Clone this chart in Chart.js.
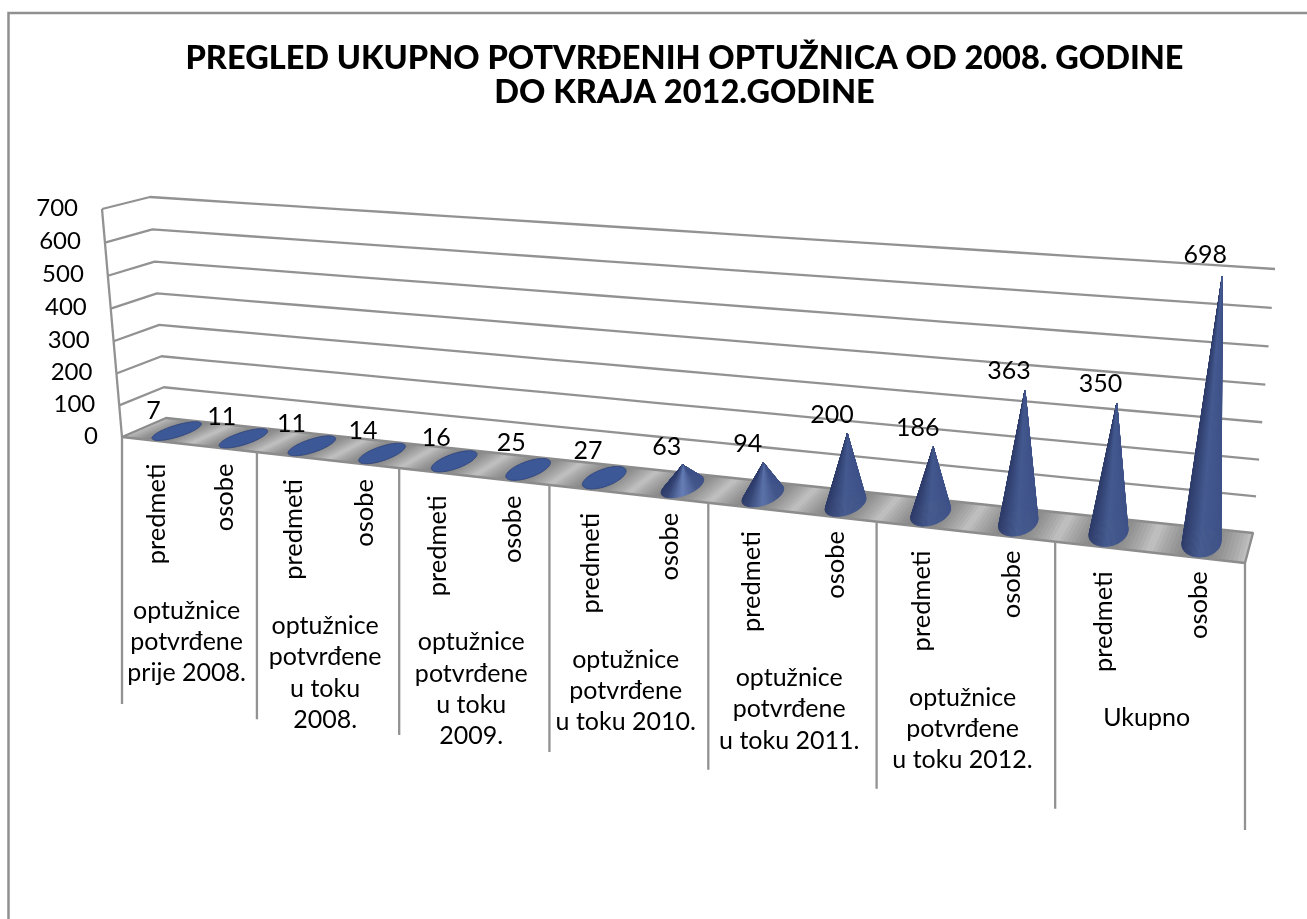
<!DOCTYPE html>
<html><head><meta charset="utf-8">
<style>html,body{margin:0;padding:0;background:#fff}canvas{display:block}</style>
<script src="https://cdn.jsdelivr.net/npm/chart.js@4"></script>
</head><body><canvas id="c" width="1307" height="919"></canvas>
<script>
const titleLines = ['PREGLED UKUPNO POTVRĐENIH OPTUŽNICA OD 2008. GODINE','DO KRAJA 2012.GODINE'];
const categories = ['predmeti','osobe','predmeti','osobe','predmeti','osobe','predmeti','osobe','predmeti','osobe','predmeti','osobe','predmeti','osobe'];
const values = [7,11,11,14,16,25,27,63,94,200,186,363,350,698];
const groupLabels = [
  ['optužnice','potvrđene','prije 2008.'],
  ['optužnice','potvrđene','u toku','2008.'],
  ['optužnice','potvrđene','u toku','2009.'],
  ['optužnice','potvrđene','u toku 2010.'],
  ['optužnice','potvrđene','u toku 2011.'],
  ['optužnice','potvrđene','u toku 2012.'],
  ['Ukupno']
];
const yTicks = {min:0,max:700,step:100};

/* projection of the Excel-style 3D box */
const FONT='Lato, "Open Sans", sans-serif';
const GRID='#929292';
function homography(q){ // unit square (u right, v up) -> quad [BL,BR,TR,TL]
  const [p0,p1,p2,p3]=q;
  const dx1=p1[0]-p2[0],dx2=p3[0]-p2[0],sx=p0[0]-p1[0]+p2[0]-p3[0];
  const dy1=p1[1]-p2[1],dy2=p3[1]-p2[1],sy=p0[1]-p1[1]+p2[1]-p3[1];
  const den=dx1*dy2-dx2*dy1;
  const g=(sx*dy2-dx2*sy)/den,h=(dx1*sy-sx*dy1)/den;
  const a=p1[0]-p0[0]+g*p1[0],b=p3[0]-p0[0]+h*p3[0],c=p0[0];
  const d=p1[1]-p0[1]+g*p1[1],e=p3[1]-p0[1]+h*p3[1],f=p0[1];
  return (u,v)=>{const w=g*u+h*v+1;return [(a*u+b*v+c)/w,(d*u+e*v+f)/w];};
}
const backWall=homography([[166,418],[1253,533],[1275,269],[150,197]]);
const frontWall=homography([[122,437],[1245,563],[1269,288],[102,209]]);
function P(u,w,v){const f=frontWall(u,v),b=backWall(u,v);return [f[0]+(b[0]-f[0])*w,f[1]+(b[1]-f[1])*w];}
const mix=(a,b,t)=>a.map((x,i)=>x+(b[i]-x)*t);
const rgb=c=>`rgb(${c.map(Math.round).join(',')})`;
function coneShade(s,k){
  const dark=[46,60,106],mid=[68,90,144],right=[62,82,136],hi=[128,152,212];
  let c = s<.45 ? mix(dark,mid,s/.45) : mix(mid,right,(s-.45)/.55);
  const bump=Math.max(0,1-Math.abs(s-.5)/.35);
  return mix(c,hi,k*bump);
}
let areaRef=null;
const toUV=(x,y)=>[(x-areaRef.left)/areaRef.width,(areaRef.bottom-y)/areaRef.height];

class ConeElement extends Chart.BarElement{
  draw(ctx){
    const [uc,v]=toUV(this.x,this.y);
    const ru=this.width/2/areaRef.width, rw=.48, N=96;
    const tip=P(uc,.5,v), c0=P(uc,.5,0);
    const pts=[];
    for(let k=0;k<=N;k++){const t=2*Math.PI*k/N;pts.push(P(uc+ru*Math.cos(t),.5+rw*Math.sin(t),0));}
    const xs=pts.map(p=>p[0]),minX=Math.min(...xs),maxX=Math.max(...xs);
    const h=c0[1]-tip[1];
    ctx.save();
    if(h<14){
      ctx.beginPath();pts.forEach((p,i)=>i?ctx.lineTo(p[0],p[1]):ctx.moveTo(p[0],p[1]));ctx.closePath();
      ctx.fillStyle='#3d5897';ctx.fill();ctx.strokeStyle='#32487f';ctx.lineWidth=1;ctx.stroke();
    }else{
      const k=Math.max(0,Math.min(1,1-h/52));
      const segs=[];
      for(let i=0;i<N;i++)segs.push([pts[i],pts[i+1]]);
      segs.sort((a,b)=>(a[0][1]+a[1][1])-(b[0][1]+b[1][1]));
      ctx.lineWidth=.6;
      for(const [a,b] of segs){
        const s=((a[0]+b[0])/2-minX)/(maxX-minX);
        const col=rgb(coneShade(s,k));
        ctx.fillStyle=col;ctx.strokeStyle=col;
        ctx.beginPath();ctx.moveTo(tip[0],tip[1]);ctx.lineTo(a[0],a[1]);ctx.lineTo(b[0],b[1]);ctx.closePath();ctx.fill();ctx.stroke();
      }
    }
    ctx.restore();
  }
}
ConeElement.id='cone';
ConeElement.defaults=Chart.BarElement.defaults;
class ConeController extends Chart.BarController{}
ConeController.id='cone';
ConeController.defaults=Object.assign({},Chart.BarController.defaults,{dataElementType:'cone'});
Chart.register(ConeElement,ConeController);

const box3d={
  id:'box3d',
  beforeDatasetsDraw(chart){
    areaRef=chart.chartArea;
    const ctx=chart.ctx,y=chart.scales.y;
    ctx.save();
    // outer frame
    ctx.strokeStyle='#909090';ctx.lineWidth=2.5;
    ctx.beginPath();ctx.moveTo(8.5,919);ctx.lineTo(8.5,13);ctx.lineTo(1307,13);ctx.stroke();
    // gridlines and side wall
    ctx.strokeStyle=GRID;ctx.lineWidth=2.3;ctx.lineJoin='round';
    y.ticks.forEach(t=>{
      const v=(areaRef.bottom-y.getPixelForValue(t.value))/areaRef.height;
      if(v===0)return;
      const a=P(0,0,v),b=P(0,1,v);
      ctx.beginPath();ctx.moveTo(a[0],a[1]);ctx.lineTo(b[0],b[1]);
      for(let i=1;i<=20;i++){const q=P(i/20,1,v);ctx.lineTo(q[0],q[1]);}
      ctx.stroke();
    });
    const s0=P(0,0,0),s1=P(0,0,1);
    ctx.beginPath();ctx.moveTo(s0[0],s0[1]);ctx.lineTo(s1[0],s1[1]);ctx.stroke();
    // floor, shaded cell by cell (strips overlap, painted left to right)
    const n=values.length,sub=24;
    for(let i=0;i<n;i++)for(let j=0;j<sub;j++){
      const u0=(i+j/sub)/n,u1=Math.min(1,(i+(j+1.6)/sub)/n);
      const d=Math.abs((j+.5)/sub-.5)*2;
      const col=rgb(mix([128,128,128],[194,194,194],Math.pow(d,1.5)));
      const q=[P(u0,0,0),P(u1,0,0),P(u1,1,0),P(u0,1,0)];
      ctx.fillStyle=col;
      ctx.beginPath();q.forEach((p,k)=>k?ctx.lineTo(p[0],p[1]):ctx.moveTo(p[0],p[1]));ctx.closePath();ctx.fill();
    }
    ctx.strokeStyle='#8c8c8c';ctx.lineWidth=2.3;
    ctx.beginPath();
    [P(0,0,0),P(1,0,0),P(1,1,0),P(0,1,0)].forEach((p,k)=>k?ctx.lineTo(p[0],p[1]):ctx.moveTo(p[0],p[1]));
    ctx.closePath();ctx.stroke();
    // y tick labels
    ctx.fillStyle='#000';ctx.font='24px '+FONT;ctx.textAlign='right';ctx.textBaseline='middle';
    y.ticks.forEach(t=>{
      const v=(areaRef.bottom-y.getPixelForValue(t.value))/areaRef.height;
      const p=P(0,0,v);
      ctx.fillText(String(t.value),p[0]-24,p[1]-1);
    });
    // category axis: separators, rotated labels, group labels
    const groups=groupLabels.length,per=n/groups;
    ctx.strokeStyle=GRID;ctx.lineWidth=2.3;
    for(let g=0;g<=groups;g++){
      const p=P(g/groups,0,0);
      ctx.beginPath();ctx.moveTo(p[0],p[1]);ctx.lineTo(p[0],p[1]+267);ctx.stroke();
    }
    const x=chart.scales.x;
    ctx.fillStyle='#000';
    for(let g=0;g<groups;g++){
      const mid=P((g+.5)/groups,0,0);
      for(let i=0;i<per;i++){
        const idx=g*per+i;
        const u=(x.getPixelForValue(idx)-areaRef.left)/areaRef.width;
        const p=P(u,0,0);
        ctx.save();ctx.translate(p[0]+2,mid[1]+19);ctx.rotate(-Math.PI/2);
        ctx.textAlign='right';ctx.textBaseline='middle';ctx.font='25.5px '+FONT;
        ctx.fillText(categories[idx],0,0);ctx.restore();
      }
      ctx.textAlign='center';ctx.textBaseline='middle';ctx.font='25px '+FONT;
      groupLabels[g].forEach((line,li)=>ctx.fillText(line,mid[0]-2,mid[1]+166+li*31.3));
    }
    ctx.restore();
  },
  afterDatasetsDraw(chart){
    const ctx=chart.ctx,meta=chart.getDatasetMeta(0);
    ctx.save();
    ctx.fillStyle='#000';ctx.font='25px '+FONT;ctx.textAlign='center';ctx.textBaseline='middle';
    meta.data.forEach((el,i)=>{
      const [u,v]=toUV(el.x,el.y);
      const p=P(u,.5,v);
      ctx.fillText(String(values[i]),p[0]-24+25.5*u-19*u*u,p[1]-18-3*v);
    });
    ctx.restore();
  }
};

new Chart(document.getElementById('c'),{
  type:'cone',
  plugins:[box3d],
  data:{labels:categories,datasets:[{data:values,clip:false,categoryPercentage:1,barPercentage:.4,backgroundColor:'#3d5897'}]},
  options:{
    responsive:false,animation:false,events:[],
    layout:{padding:{left:100,right:38,top:0,bottom:350}},
    plugins:{
      legend:{display:false},tooltip:{enabled:false},
      title:{display:true,text:titleLines,color:'#000',font:{family:FONT,size:32.5,weight:'900',lineHeight:1.05},padding:{top:41,bottom:80}}
    },
    scales:{
      x:{type:'category',display:false,offset:true},
      y:{type:'linear',display:false,min:yTicks.min,max:yTicks.max,ticks:{stepSize:yTicks.step}}
    }
  }
});
</script></body></html>
